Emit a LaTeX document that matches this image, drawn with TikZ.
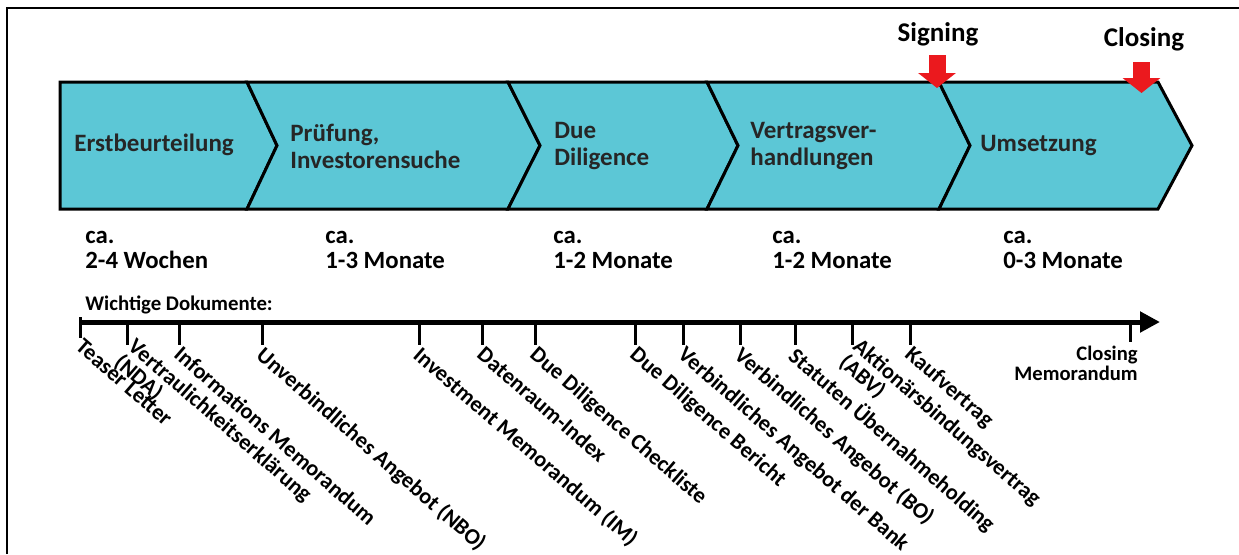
\documentclass[tikz,border=0pt]{standalone}
\usepackage{fontspec}
\setmainfont{Carlito}
\usetikzlibrary{positioning,arrows.meta}

\definecolor{phasefill}{RGB}{92,199,214}
\definecolor{markred}{RGB}{235,25,30}

\begin{document}
\begin{tikzpicture}[
  x=0.5pt, y=-0.5pt,
  phasebox/.style={draw=black, line width=1.5pt, fill=phasefill, line join=miter},
  phaselabel/.style={font=\bfseries\fontsize{12.5}{13.5}\selectfont, align=left, inner sep=0pt, text=black!85},
  spanlabel/.style={font=\bfseries\fontsize{12.4}{12.5}\selectfont, align=left, inner sep=0pt},
  eventlabel/.style={font=\bfseries\fontsize{13.5}{15}\selectfont, inner sep=0pt},
  eventarrow/.style={markred, line width=8.5pt, -{Triangle[length=7.5pt, width=18.5pt]}},
  timeline/.style={line width=2.5pt, -{Triangle[length=10pt, width=10pt]}},
  tickline/.style={line width=1.5pt},
  doclabel/.style={font=\bfseries\fontsize{11.2}{10.5}\selectfont, xshift=2pt, yshift=1pt, rotate=-41, anchor=north west, align=left, inner sep=0.5pt}
]
\useasboundingbox (0,0) rectangle (1239,554);

% frame (runs off the page on the right and at the bottom)
\draw[line width=1pt] (7,554) -- (7,8) -- (1239,8);

% ======================================================
% =============== PHASES ===============================
% ======================================================
\draw[phasebox] (60,82) -- (247,82) -- (277,145.5) -- (247,209) -- (60,209) -- cycle;
\draw[phasebox] (247,82) -- (508,82) -- (540,145.5) -- (508,209) -- (247,209) -- (277,145.5) -- cycle;
\draw[phasebox] (508,82) -- (707,82) -- (738,145.5) -- (707,209) -- (508,209) -- (540,145.5) -- cycle;
\draw[phasebox] (707,82) -- (939,82) -- (970,145.5) -- (939,209) -- (707,209) -- (738,145.5) -- cycle;
\draw[phasebox] (939,82) -- (1158,82) -- (1192,145.5) -- (1158,209) -- (939,209) -- (970,145.5) -- cycle;

\node[phaselabel, anchor=base west] (P1) at (74,151) {Erstbeurteilung};
\node[phaselabel, anchor=west] (P2) at (290,146) {Prüfung,\\Investorensuche};
\node[phaselabel, anchor=west] (P3) at (554,146) {Due\\Diligence};
\node[phaselabel, anchor=west] (P4) at (750,146) {Vertragsver-\\handlungen};
\node[phaselabel, anchor=base west] (P5) at (980,151) {Umsetzung};

% signing / closing
\node[eventlabel, anchor=base] (sign) at (938,41) {Signing};
\node[eventlabel, anchor=base] (close) at (1144,46) {Closing};
\coordinate (signtip) at (937,88);
\coordinate (closetip) at (1141.5,93);
\draw[eventarrow] (signtip |- 0,55) -- (signtip);
\draw[eventarrow] (closetip |- 0,62) -- (closetip);

% durations (base = last line)
\node[spanlabel, anchor=base west] (D1) at (85,268) {ca.\\2-4 Wochen};
\node[spanlabel, anchor=base west] (D2) at (325,268) {ca.\\1-3 Monate};
\node[spanlabel, anchor=base west] (D3) at (553,268) {ca.\\1-2 Monate};
\node[spanlabel, anchor=base west] (D4) at (772,268) {ca.\\1-2 Monate};
\node[spanlabel, anchor=base west] (D5) at (1003,268) {ca.\\0-3 Monate};

% ======================================================
% =============== DOCUMENTS ============================
% ======================================================
\node[font=\bfseries\fontsize{10.4}{10}\selectfont, inner sep=0pt, anchor=base west] (docs) at (85,310) {Wichtige Dokumente:};

\coordinate (start) at (79,322);
\coordinate (end) at (1160,322);
\draw[timeline] (start) -- (end);

\draw[tickline] (80,317) -- (80,338) coordinate (T1);
\draw[tickline] (127,322) -- (127,345) coordinate (T2);
\draw[tickline] (179,322) -- (179,345) coordinate (T3);
\draw[tickline] (262,322) -- (262,345) coordinate (T4);
\draw[tickline] (419,322) -- (419,345) coordinate (T5);
\draw[tickline] (482,322) -- (482,345) coordinate (T6);
\draw[tickline] (535,322) -- (535,345) coordinate (T7);
\draw[tickline] (635,322) -- (635,345) coordinate (T8);
\draw[tickline] (683,322) -- (683,345) coordinate (T9);
\draw[tickline] (740,322) -- (740,345) coordinate (T10);
\draw[tickline] (795,322) -- (795,345) coordinate (T11);
\draw[tickline] (852,322) -- (852,345) coordinate (T12);
\draw[tickline] (910,322) -- (910,345) coordinate (T13);
\draw[tickline] (1130,322) -- (1130,342) coordinate (T14);

\node[doclabel] (L1) at (T1) {Teaser Letter};
\node[doclabel] (L2) at ([shift={(6,-8)}]T2) {Vertraulichkeitserklärung\\(NDA)};
\node[doclabel] (L3) at (T3) {Informations Memorandum};
\node[doclabel] (L4) at (T4) {Unverbindliches Angebot (NBO)};
\node[doclabel] (L5) at (T5) {Investment Memorandum (IM)};
\node[doclabel] (L6) at (T6) {Datenraum-Index};
\node[doclabel] (L7) at (T7) {Due Diligence Checkliste};
\node[doclabel] (L8) at (T8) {Due Diligence Bericht};
\node[doclabel] (L9) at (T9) {Verbindliches Angebot der Bank};
\node[doclabel] (L10) at (T10) {Verbindliches Angebot (BO)};
\node[doclabel] (L11) at (T11) {Statuten Übernahmeholding};
\node[doclabel] (L12) at ([shift={(6,-8)}]T12) {Aktionärsbindungsvertrag\\(ABV)};
\node[doclabel] (L13) at (T13) {Kaufvertrag};
\node[font=\bfseries\fontsize{10.3}{10}\selectfont, align=right, inner sep=0pt, anchor=north east] (L14) at ([xshift=4pt, yshift=-2pt]T14) {Closing\\Memorandum};

\end{tikzpicture}
\end{document}
